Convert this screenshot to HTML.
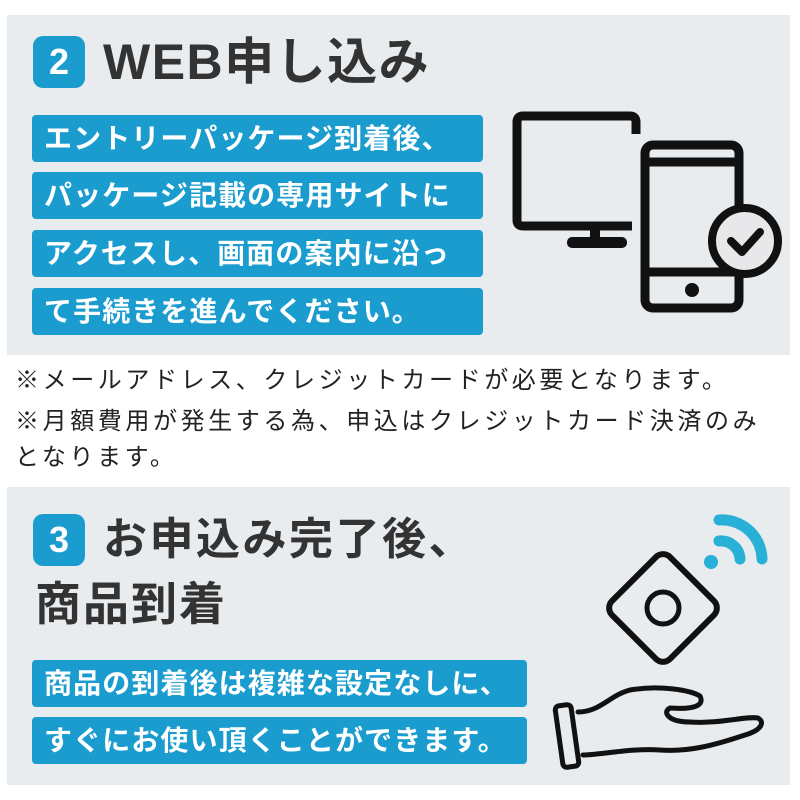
<!DOCTYPE html>
<html><head><meta charset="utf-8"><style>
body{margin:0;width:800px;height:800px;background:#fff;position:relative;overflow:hidden;font-family:"Liberation Sans","Noto Sans CJK JP",sans-serif;}
.p{position:absolute;background:#e8ecef;}
.badge{position:absolute;width:52px;height:52px;background:#1a9ccf;border-radius:10px;color:#fff;font-weight:bold;font-size:36px;line-height:52px;text-align:center;}
.t{position:absolute;color:#333;font-weight:bold;white-space:nowrap;}
.b{position:absolute;background:#1a9ccf;border-radius:4px;color:#fff;font-weight:bold;font-size:28px;line-height:47px;padding-left:12px;box-sizing:border-box;white-space:nowrap;letter-spacing:1.1px;}
.n{position:absolute;left:15px;color:#222;font-size:24px;letter-spacing:3.6px;white-space:nowrap;line-height:30px;}
</style></head><body>
<div class="p" style="left:7px;top:15px;width:783px;height:340px"></div>
<div class="badge" style="left:33px;top:36px">2</div>
<div class="t" style="left:103px;top:32px;font-size:50px;line-height:60px;letter-spacing:1.5px">WEB申し込み</div>
<div class="b" style="left:32px;top:115px;width:451px">エントリーパッケージ到着後、</div>
<div class="b" style="left:32px;top:172px;width:451px">パッケージ記載の専用サイトに</div>
<div class="b" style="left:32px;top:230px;width:451px">アクセスし、画面の案内に沿っ</div>
<div class="b" style="left:32px;top:288px;width:451px">て手続きを進んでください。</div>
<svg style="position:absolute;left:0;top:0" width="800" height="800">
<g fill="none" stroke="#111" stroke-width="9" stroke-linejoin="round">
<path d="M636 134 V122 Q636 116 630 116 H523 Q517 116 517 122 V220 Q517 226 523 226 H632"/>
<rect x="645" y="145" width="94" height="163" rx="8"/>
<line x1="645" y1="162" x2="739" y2="162"/>
<line x1="645" y1="272" x2="739" y2="272"/>
</g>
<rect x="590" y="228" width="10" height="12" fill="#111"/>
<rect x="567" y="237" width="60" height="11" rx="5" fill="#111"/>
<circle cx="692" cy="290" r="7" fill="#111"/>
<circle cx="745" cy="241" r="33" fill="#e8e8ea" stroke="#111" stroke-width="8"/>
<path d="M731 241 L742 252 L760 232" fill="none" stroke="#111" stroke-width="8" stroke-linecap="round" stroke-linejoin="round"/>
</svg>
<div class="n" style="top:366px">※メールアドレス、クレジットカードが必要となります。</div>
<div class="n" style="top:407px">※月額費用が発生する為、申込はクレジットカード決済のみ</div>
<div class="n" style="top:443px">となります。</div>
<div class="p" style="left:7px;top:487px;width:783px;height:298px"></div>
<div class="badge" style="left:33px;top:514px">3</div>
<div class="t" style="left:103px;top:512px;font-size:44px;line-height:56px;letter-spacing:2.5px">お申込み完了後、</div>
<div class="t" style="left:35px;top:576px;font-size:46px;line-height:56px;letter-spacing:2px">商品到着</div>
<div class="b" style="left:32px;top:660px;width:495px">商品の到着後は複雑な設定なしに、</div>
<div class="b" style="left:32px;top:717px;width:495px">すぐにお使い頂くことができます。</div>
<svg style="position:absolute;left:0;top:0" width="800" height="800">
<rect x="622" y="567" width="82" height="82" rx="10" transform="rotate(45 663 608)" fill="none" stroke="#111" stroke-width="6"/>
<circle cx="663" cy="608" r="16" fill="none" stroke="#111" stroke-width="5"/>
<g fill="none" stroke="#29b0d6" stroke-width="11" stroke-linecap="round">
<path d="M719 520 A40 40 0 0 1 762 559"/>
<path d="M719 541 A19 19 0 0 1 740 559"/>
</g>
<circle cx="711" cy="562" r="7" fill="#29b0d6"/>
<g fill="none" stroke="#111" stroke-width="5" stroke-linejoin="round" stroke-linecap="round">
<rect x="559" y="705" width="16" height="62" rx="4" transform="rotate(-8 567 736)"/>
<path d="M578 712 C600 712 610 695 630 690 C660 685 690 690 700 696 C704 704 698 710 670 708 C662 712 668 722 690 722 C720 724 745 716 758 718 C765 722 762 730 745 735 C715 745 690 752 660 750 C630 748 600 755 583 755"/>
</g>
</svg>
</body></html>
